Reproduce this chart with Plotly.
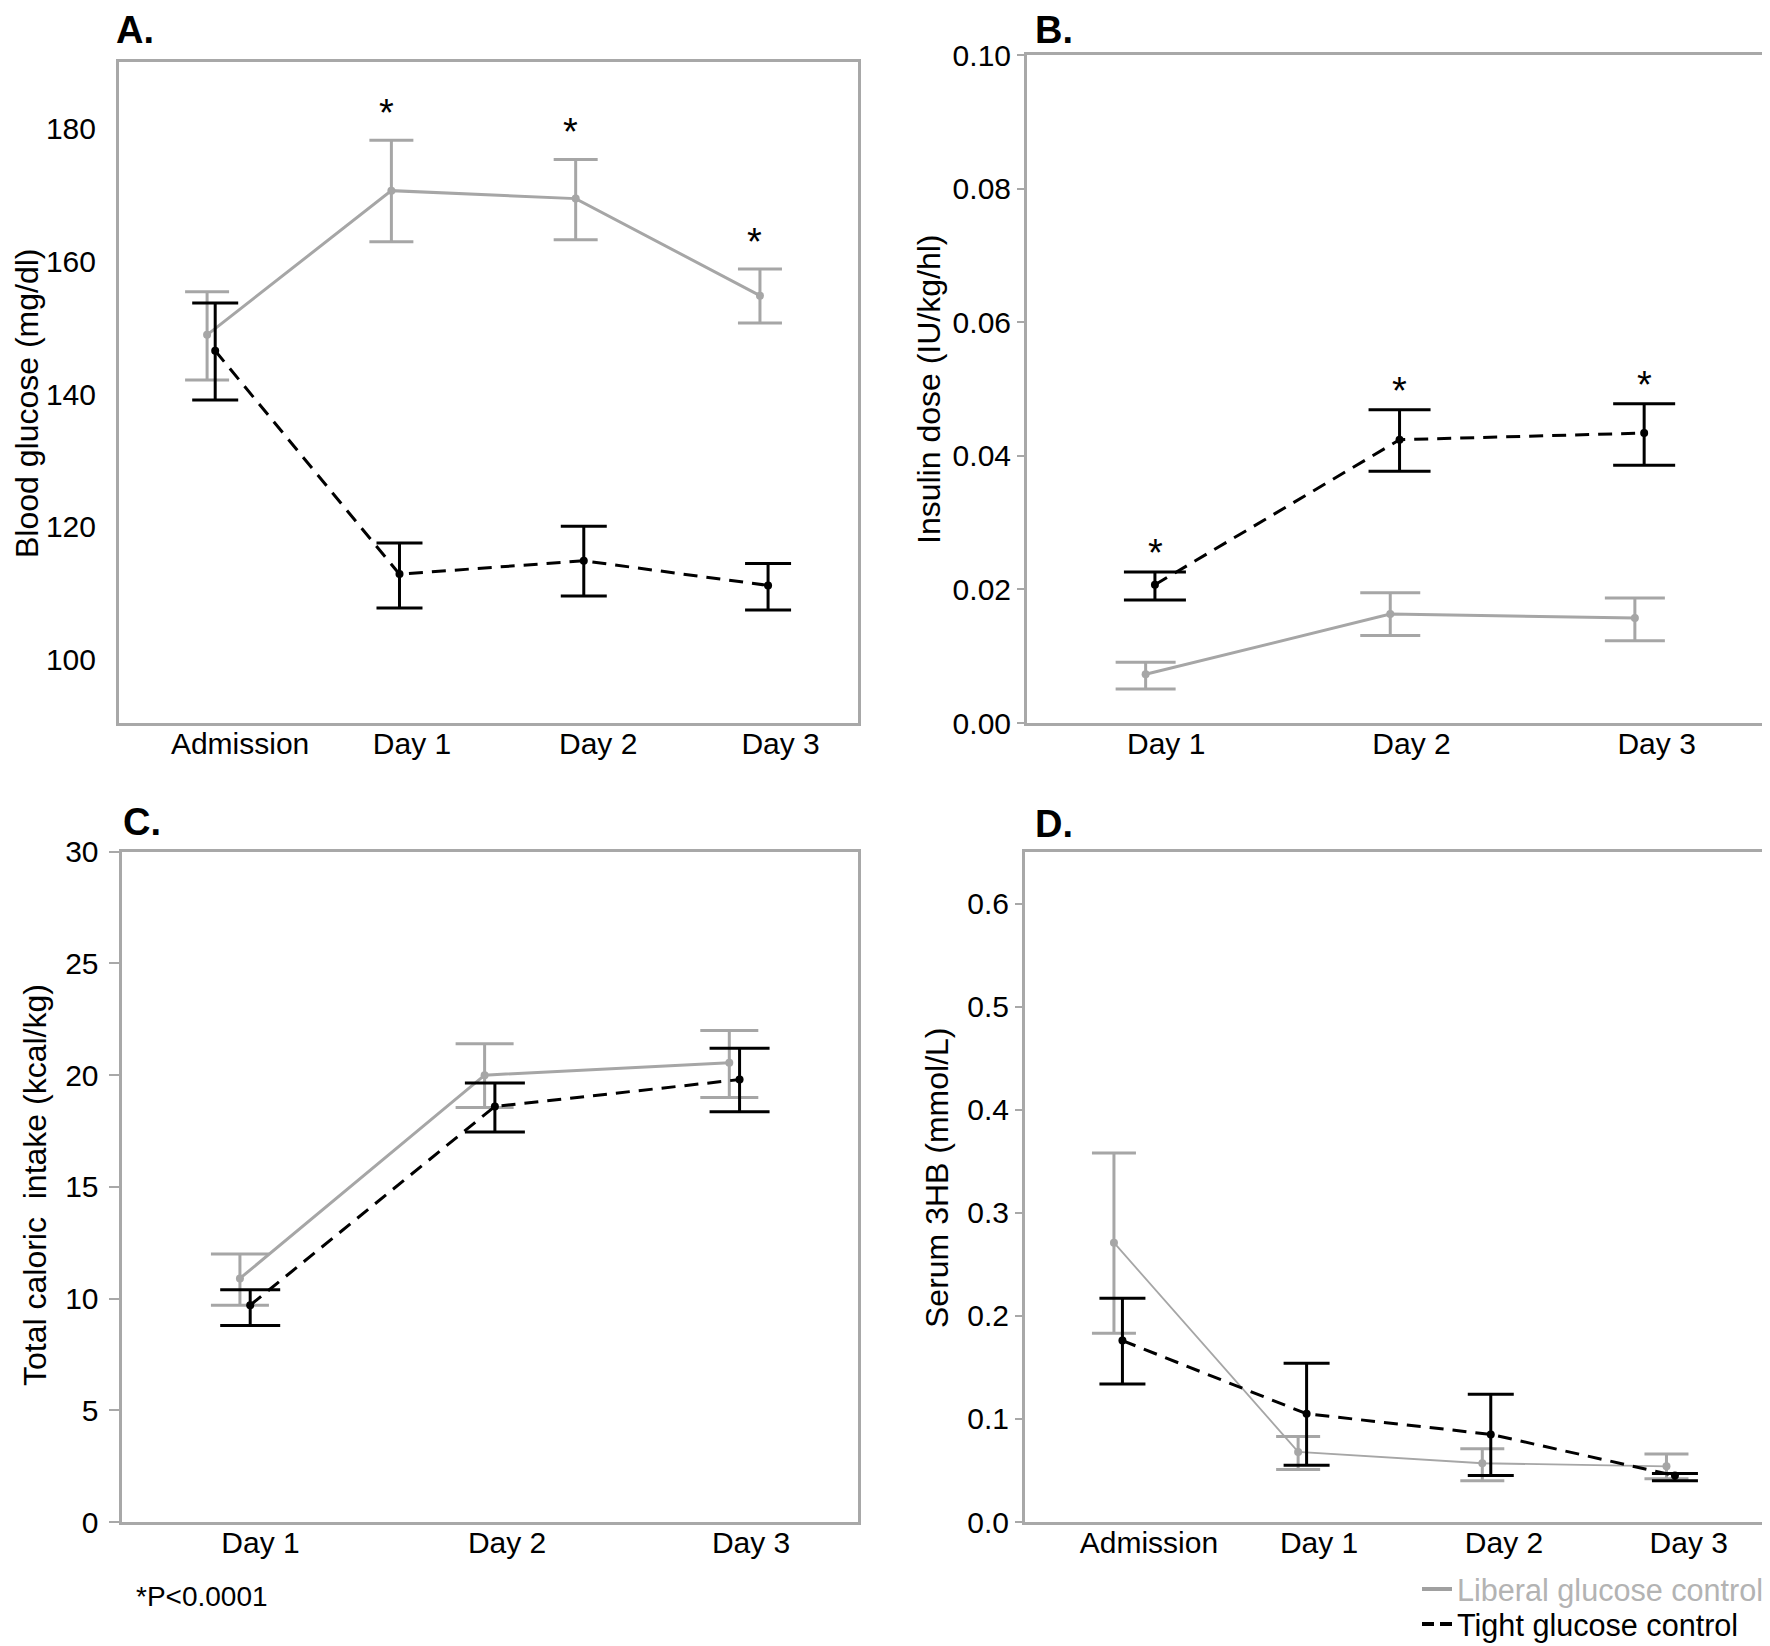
import plotly.graph_objects as go

# ---------------- data ----------------
A_cats = ["Admission", "Day 1", "Day 2", "Day 3"]
A_lib_mean = [148.9, 170.6, 169.4, 154.8]
A_lib_upper = [155.4, 178.2, 175.3, 158.8]
A_lib_lower = [142.1, 162.9, 163.2, 150.7]
A_tight_mean = [146.5, 112.9, 114.9, 111.2]
A_tight_upper = [153.7, 117.6, 120.1, 114.5]
A_tight_lower = [139.1, 107.8, 109.6, 107.5]
A_star_idx = [1, 2, 3]  # significant (liberal series)

B_cats = ["Day 1", "Day 2", "Day 3"]
B_lib_mean = [0.0073, 0.0163, 0.0157]
B_lib_upper = [0.0091, 0.0195, 0.0187]
B_lib_lower = [0.0051, 0.0131, 0.0123]
B_tight_mean = [0.0207, 0.0424, 0.0434]
B_tight_upper = [0.0226, 0.0469, 0.0478]
B_tight_lower = [0.0184, 0.0377, 0.0386]
B_star_idx = [0, 1, 2]  # significant (tight series)

C_cats = ["Day 1", "Day 2", "Day 3"]
C_lib_mean = [10.9, 20.0, 20.55]
C_lib_upper = [12.0, 21.4, 22.0]
C_lib_lower = [9.7, 18.55, 19.0]
C_tight_mean = [9.7, 18.6, 19.8]
C_tight_upper = [10.4, 19.65, 21.2]
C_tight_lower = [8.8, 17.45, 18.36]

D_cats = ["Admission", "Day 1", "Day 2", "Day 3"]
D_lib_mean = [0.271, 0.068, 0.057, 0.054]
D_lib_upper = [0.358, 0.083, 0.071, 0.066]
D_lib_lower = [0.183, 0.051, 0.040, 0.042]
D_tight_mean = [0.176, 0.105, 0.085, 0.045]
D_tight_upper = [0.217, 0.154, 0.124, 0.047]
D_tight_lower = [0.134, 0.055, 0.045, 0.040]

A_yticks = [100, 120, 140, 160, 180]
B_yticks = [0.00, 0.02, 0.04, 0.06, 0.08, 0.10]
C_yticks = [0, 5, 10, 15, 20, 25, 30]
D_yticks = [0.0, 0.1, 0.2, 0.3, 0.4, 0.5, 0.6]

# ---------------- layout constants ----------------
PAGE_W, PAGE_H = 1770, 1646
OFF = 8                      # default body margin of the html page
W, H = PAGE_W - OFF, PAGE_H - OFF
FONT = "Arial, Liberation Sans, sans-serif"
GRAY = "#a6a6a6"
BOX = "#a8a8a8"
TICKFS = 30
TITLEFS = 32


def fx(p):
    """page pixel x -> paper fraction"""
    return (p - OFF) / W


def fy(p):
    """page pixel y -> paper fraction"""
    return 1 - (p - OFF) / H


fig = go.Figure()

panels = [
    dict(key="A", ax="", cats=A_cats, lm=A_lib_mean, lu=A_lib_upper, ll=A_lib_lower,
         tm=A_tight_mean, tu=A_tight_upper, tl=A_tight_lower,
         xdom=(119, 858), ydom=(61.7, 723), yr=[90.5, 190], xr=[-0.5, 3.51],
         dodge=0.022, tickoff=[0.157, 0.09, 0.10, 0.09], cap=22, libw=3,
         yticks=A_yticks, fmt="d", ticklen=0, standoff=14,
         title="Blood glucose (mg/dl)", tx=27, ty=404),
    dict(key="B", ax="2", cats=B_cats, lm=B_lib_mean, lu=B_lib_upper, ll=B_lib_lower,
         tm=B_tight_mean, tu=B_tight_upper, tl=B_tight_lower,
         xdom=(1027, 1765), ydom=(55, 723), yr=[0, 0.1], xr=[-0.504, 2.513],
         dodge=0.019, tickoff=[0.065, 0.068, 0.07], cap=30, libw=3,
         yticks=B_yticks, fmt=".2f", ticklen=7, standoff=0,
         title="Insulin dose (IU/kg/hl)", tx=929, ty=390),
    dict(key="C", ax="3", cats=C_cats, lm=C_lib_mean, lu=C_lib_upper, ll=C_lib_lower,
         tm=C_tight_mean, tu=C_tight_upper, tl=C_tight_lower,
         xdom=(121.5, 858), ydom=(851.7, 1522), yr=[0, 30], xr=[-0.505, 2.505],
         dodge=0.021, tickoff=[0.063, 0.071, 0.068], cap=29, libw=3,
         yticks=C_yticks, fmt="d", ticklen=10, standoff=4,
         title="Total caloric  intake (kcal/kg)", tx=35, ty=1185),
    dict(key="D", ax="4", cats=D_cats, lm=D_lib_mean, lu=D_lib_upper, ll=D_lib_lower,
         tm=D_tight_mean, tu=D_tight_upper, tl=D_tight_lower,
         xdom=(1025, 1765), ydom=(852, 1522), yr=[0, 0.65], xr=[-0.506, 3.512],
         dodge=0.023, tickoff=[0.167, 0.091, 0.095, 0.098], cap=22, libw=1.8,
         yticks=D_yticks, fmt=".1f", ticklen=7, standoff=0,
         title="Serum 3HB (mmol/L)", tx=937, ty=1178),
]

for p in panels:
    n = len(p["cats"])
    idx = list(range(n))
    xl = [i - p["dodge"] for i in idx]
    xt = [i + p["dodge"] for i in idx]
    xa, ya = "x" + p["ax"], "y" + p["ax"]
    fig.add_trace(go.Scatter(
        x=xl, y=p["lm"], mode="lines+markers", xaxis=xa, yaxis=ya, showlegend=False,
        line=dict(color=GRAY, width=p["libw"]),
        marker=dict(color=GRAY, size=8),
        error_y=dict(type="data", symmetric=False,
                     array=[u - m for u, m in zip(p["lu"], p["lm"])],
                     arrayminus=[m - l for m, l in zip(p["lm"], p["ll"])],
                     color=GRAY, thickness=3, width=p["cap"]),
        hoverinfo="skip"))
    fig.add_trace(go.Scatter(
        x=xt, y=p["tm"], mode="lines+markers", xaxis=xa, yaxis=ya, showlegend=False,
        line=dict(color="black", width=3, dash="14px,9px"),
        marker=dict(color="black", size=8),
        error_y=dict(type="data", symmetric=False,
                     array=[u - m for u, m in zip(p["tu"], p["tm"])],
                     arrayminus=[m - l for m, l in zip(p["tm"], p["tl"])],
                     color="black", thickness=3, width=p["cap"] + 1),
        hoverinfo="skip"))

    common = dict(showline=True, mirror=True, linecolor=BOX, linewidth=3,
                  showgrid=False, zeroline=False, automargin=False)
    fig.update_layout(**{
        ("xaxis" + p["ax"]): dict(
            domain=[fx(p["xdom"][0]), fx(p["xdom"][1])], range=p["xr"], anchor=ya,
            tickvals=[i + o for i, o in zip(idx, p["tickoff"])], ticktext=p["cats"],
            ticks="", ticklabelstandoff=-8,
            tickfont=dict(size=TICKFS, color="black", family=FONT), **common),
        ("yaxis" + p["ax"]): dict(
            domain=[fy(p["ydom"][1]), fy(p["ydom"][0])], range=p["yr"], anchor=xa,
            tickvals=p["yticks"], tickformat=p["fmt"],
            ticks="outside" if p["ticklen"] else "", ticklen=p["ticklen"] or 5,
            tickcolor=BOX, tickwidth=2, ticklabelstandoff=p["standoff"],
            tickfont=dict(size=TICKFS, color="black", family=FONT), **common),
    })
    fig.add_annotation(text=p["title"], xref="paper", yref="paper",
                       x=fx(p["tx"]), y=fy(p["ty"]), textangle=-90, showarrow=False,
                       xanchor="center", yanchor="middle",
                       font=dict(size=TITLEFS, color="black", family=FONT))

# panel letters
for txt, x, y in [("A.", 114, 30), ("B.", 1033, 30), ("C.", 121, 822), ("D.", 1033, 824)]:
    fig.add_annotation(text="<b>" + txt + "</b>", xref="paper", yref="paper",
                       x=fx(x), y=fy(y), xanchor="left", yanchor="middle", showarrow=False,
                       font=dict(size=38, color="black", family=FONT))

# significance asterisks
for i in A_star_idx:
    fig.add_annotation(text="*", xref="x", yref="y", x=i - 0.05, y=A_lib_upper[i],
                       yanchor="bottom", yshift=4, showarrow=False,
                       font=dict(size=38, color="black", family=FONT))
for i in B_star_idx:
    fig.add_annotation(text="*", xref="x2", yref="y2", x=i + 0.02, y=B_tight_upper[i],
                       yanchor="bottom", yshift=-4, showarrow=False,
                       font=dict(size=38, color="black", family=FONT))

fig.add_annotation(text="*P<0.0001", xref="paper", yref="paper", x=fx(134), y=fy(1596),
                   xanchor="left", yanchor="middle", showarrow=False,
                   font=dict(size=28, color="black", family=FONT))

# legend proxies
fig.add_trace(go.Scatter(x=[None], y=[None], mode="lines", xaxis="x4", yaxis="y4",
                         name="<span style='color:#b3b3b3'>Liberal glucose control</span>",
                         line=dict(color="#a0a0a0", width=4), legend="legend"))
fig.add_trace(go.Scatter(x=[None], y=[None], mode="lines", xaxis="x4", yaxis="y4",
                         name="Tight glucose control",
                         line=dict(color="black", width=4, dash="12px,6px"), legend="legend2"))

leg_common = dict(xanchor="left", yanchor="middle", bgcolor="rgba(0,0,0,0)",
                  font=dict(size=30.6, color="black", family=FONT), itemwidth=30,
                  borderwidth=0)
fig.update_layout(
    template="none",
    legend=dict(x=fx(1417), y=fy(1589), **leg_common),
    legend2=dict(x=fx(1417), y=fy(1624), **leg_common),
    width=W, height=H, margin=dict(l=0, r=0, t=0, b=0, autoexpand=False),
    paper_bgcolor="white", plot_bgcolor="white",
    font=dict(family=FONT, size=27, color="black"),
)

fig.write_html("out.html")
